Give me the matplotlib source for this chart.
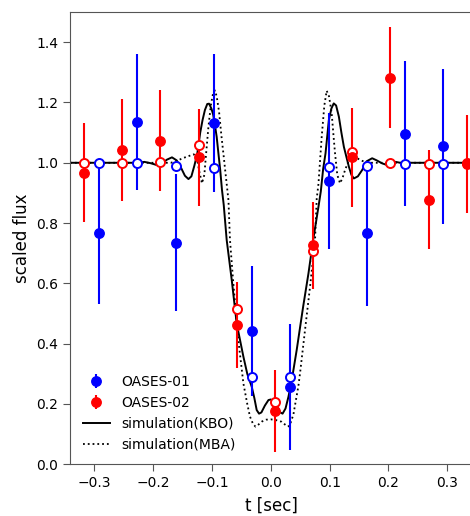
import matplotlib
matplotlib.use('Agg')
import matplotlib.pyplot as plt

# OASES-01 (blue) binned photometry and the simulated flux in each bin
t_01 = [-0.2915, -0.2269, -0.1617, -0.0964, -0.0327, 0.0327, 0.0985, 0.1637, 0.2284, 0.2935]
flux_01 = [0.766, 1.136, 0.735, 1.133, 0.442, 0.256, 0.940, 0.766, 1.096, 1.055]
err_01 = [0.233, 0.225, 0.227, 0.229, 0.217, 0.210, 0.226, 0.240, 0.240, 0.257]
model_01 = [1.000, 1.000, 0.989, 0.982, 0.288, 0.290, 0.987, 0.989, 0.997, 0.997]

# OASES-02 (red)
t_02 = [-0.3175, -0.2530, -0.1878, -0.1220, -0.0568, 0.0078, 0.0723, 0.1380, 0.2034, 0.2686, 0.3337]
flux_02 = [0.967, 1.042, 1.073, 1.018, 0.463, 0.177, 0.726, 1.018, 1.282, 0.878, 0.997]
err_02 = [0.165, 0.168, 0.167, 0.160, 0.143, 0.135, 0.143, 0.164, 0.168, 0.165, 0.162]
model_02 = [1.000, 1.000, 1.001, 1.060, 0.514, 0.208, 0.707, 1.036, 0.999, 0.997, 1.000]

# diffraction light curves
t_kbo = [-0.341, -0.25, -0.225, -0.215, -0.205, -0.193, -0.185, -0.177, -0.168, -0.160,
         -0.153, -0.146, -0.140, -0.135, -0.130, -0.125, -0.120, -0.116, -0.112, -0.108,
         -0.105, -0.101, -0.098, -0.095, -0.092, -0.089, -0.086, -0.083, -0.080, -0.075,
         -0.0664, -0.058, -0.0466, -0.040, -0.0324, -0.028, -0.024, -0.020, -0.016, -0.010,
         -0.004, 0.000, 0.004, 0.010, 0.016, 0.020, 0.025, 0.030, 0.0357, 0.044,
         0.055, 0.064, 0.072, 0.081, 0.085, 0.089, 0.093, 0.0987, 0.103, 0.107,
         0.111, 0.1157, 0.120, 0.1242, 0.1327, 0.137, 0.1412, 0.148, 0.1553, 0.163,
         0.1723, 0.180, 0.1893, 0.197, 0.205, 0.212, 0.22, 0.345]
f_kbo = [1.0, 1.0, 1.0, 1.003, 0.999, 0.992, 0.996, 1.010, 1.018, 1.008,
         0.985, 0.957, 0.946, 0.955, 0.990, 1.030, 1.100, 1.142, 1.175, 1.195,
         1.196, 1.180, 1.160, 1.125, 1.086, 1.030, 0.976, 0.910, 0.860, 0.744,
         0.611, 0.467, 0.357, 0.300, 0.257, 0.220, 0.180, 0.168, 0.172, 0.195,
         0.213, 0.215, 0.210, 0.193, 0.172, 0.168, 0.185, 0.224, 0.280, 0.379,
         0.523, 0.633, 0.744, 0.854, 0.905, 0.980, 1.031, 1.142, 1.180, 1.197,
         1.190, 1.153, 1.100, 1.053, 0.987, 0.960, 0.948, 0.955, 0.976, 1.005,
         1.015, 1.008, 0.998, 0.993, 0.998, 1.003, 1.0, 1.0]

t_mba = [-0.341, -0.17, -0.160, -0.150, -0.140, -0.131, -0.126, -0.122, -0.117, -0.113,
         -0.110, -0.106, -0.102, -0.098, -0.095, -0.092, -0.088, -0.084, -0.080, -0.0776,
         -0.075, -0.072, -0.0694, -0.0637, -0.0552, -0.0466, -0.040, -0.0354, -0.030, -0.026,
         -0.022, -0.015, -0.008, 0.000, 0.008, 0.0185, 0.024, 0.029, 0.032, 0.0384,
         0.0469, 0.0497, 0.0582, 0.0667, 0.0752, 0.078, 0.081, 0.0865, 0.091, 0.095,
         0.099, 0.1035, 0.107, 0.1092, 0.113, 0.1177, 0.122, 0.1262, 0.132, 0.1375,
         0.145, 0.1517, 0.16, 0.17, 0.345]
f_mba = [1.0, 1.0, 1.006, 1.015, 1.022, 1.028, 1.020, 0.975, 0.932, 0.960,
         1.030, 1.120, 1.190, 1.232, 1.240, 1.220, 1.170, 1.090, 1.020, 0.976,
         0.930, 0.876, 0.744, 0.600, 0.412, 0.268, 0.200, 0.158, 0.133, 0.125,
         0.130, 0.142, 0.148, 0.149, 0.147, 0.141, 0.132, 0.125, 0.128, 0.165,
         0.260, 0.302, 0.446, 0.589, 0.744, 0.880, 0.930, 1.086, 1.190, 1.239,
         1.220, 1.164, 1.080, 1.031, 0.960, 0.932, 0.950, 0.976, 1.005, 1.020,
         1.018, 1.009, 1.003, 1.0, 1.0]

fig = plt.figure(figsize=(4.7, 5.16), dpi=100)
ax = fig.add_axes([0.149, 0.1002, 0.859, 0.8765])

ax.plot(t_kbo, f_kbo, color='black', lw=1.4, zorder=1.5, label='simulation(KBO)')
ax.plot(t_mba, f_mba, color='black', lw=1.3, ls=':', zorder=1.5, label='simulation(MBA)')

eb1 = ax.errorbar(t_01, flux_01, yerr=err_01, fmt='o', color='blue', ms=6.8,
                  elinewidth=1.5, capsize=0, zorder=2, label='OASES-01')
eb2 = ax.errorbar(t_02, flux_02, yerr=err_02, fmt='o', color='red', ms=6.8,
                  elinewidth=1.5, capsize=0, zorder=2, label='OASES-02')

# simulated values in each bin, hollow
ax.plot(t_01, model_01, 'o', mfc='white', mec='blue', mew=1.4, ms=6.5, zorder=2.5)
ax.plot(t_02, model_02, 'o', mfc='white', mec='red', mew=1.4, ms=6.5, zorder=2.5)
eb1[0].set_zorder(3)
eb2[0].set_zorder(3)

ax.set_xlim(-0.3413, 0.345)
ax.set_ylim(0, 1.5)
ax.set_xticks([-0.3, -0.2, -0.1, 0.0, 0.1, 0.2, 0.3])
ax.set_yticks([0.0, 0.2, 0.4, 0.6, 0.8, 1.0, 1.2, 1.4])
ax.set_xlabel('t [sec]', fontsize=12, labelpad=4.5)
ax.set_ylabel('scaled flux', fontsize=12)

for side in ax.spines.values():
    side.set_color('#555555')
ax.tick_params(color='#555555', labelcolor='black', length=5)

handles, labels = ax.get_legend_handles_labels()
order = [2, 3, 0, 1]
ax.legend([handles[i] for i in order], [labels[i] for i in order],
          loc='lower left', frameon=False)

fig.savefig('out.png', dpi=100)
